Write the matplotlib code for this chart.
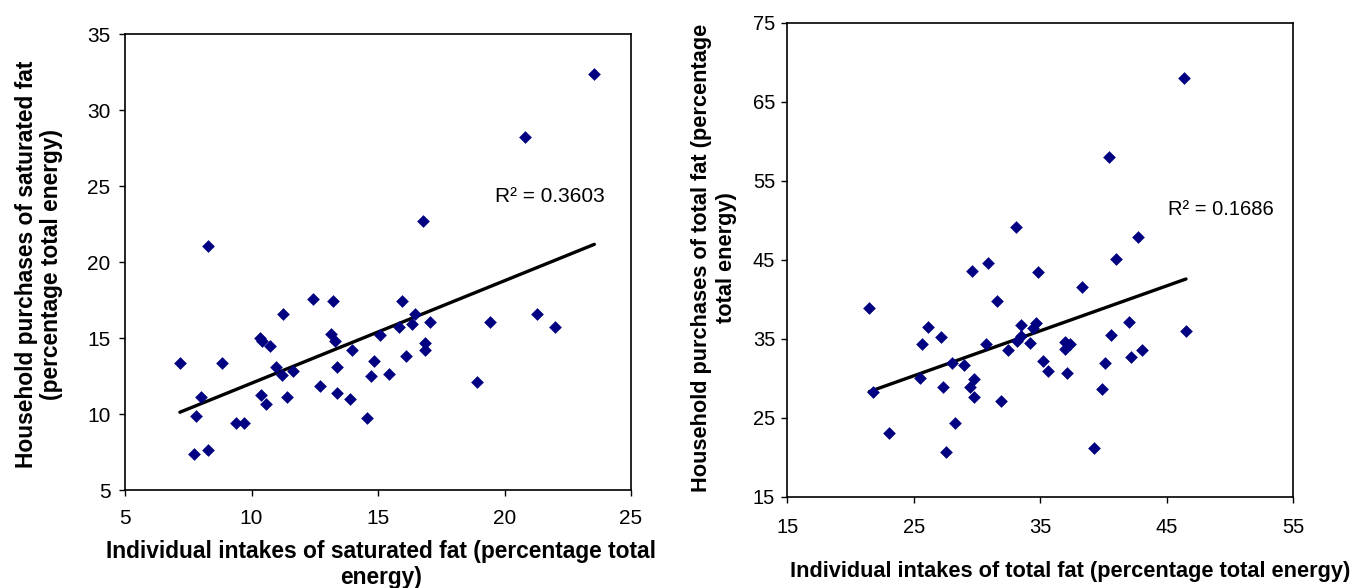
import matplotlib
matplotlib.use('Agg')
import matplotlib.pyplot as plt
import numpy as np

plt.rcParams['font.family'] = ['Liberation Sans', 'DejaVu Sans']

# saturated fat: individual intake vs household purchases (% total energy)
sat_x = [7.17, 7.99, 7.79, 7.71, 8.29, 8.82, 9.37, 9.70, 10.34, 10.40, 10.73, 10.36,
         10.57, 10.96, 11.19, 11.63, 11.23, 11.39, 12.42, 13.22, 12.71, 13.13, 13.31,
         13.38, 13.38, 13.96, 13.89, 14.55, 14.71, 14.84, 15.08, 15.45, 15.83, 15.96,
         16.11, 16.33, 16.46, 16.85, 16.85, 17.06, 18.90, 19.43, 21.27, 21.99, 8.29,
         16.77, 20.82, 23.55]
sat_y = [13.34, 11.14, 9.89, 7.39, 7.63, 13.34, 9.39, 9.39, 14.98, 14.82, 14.47, 11.25,
         10.64, 13.11, 12.57, 12.85, 16.58, 11.14, 17.57, 17.45, 11.86, 15.26, 14.82,
         13.11, 11.36, 14.21, 10.99, 9.72, 12.50, 13.47, 15.20, 12.61, 15.70, 17.45,
         13.82, 15.92, 16.58, 14.65, 14.21, 16.07, 12.13, 16.07, 16.58, 15.70, 21.05,
         22.68, 28.24, 32.37]

# total fat
tot_x = [21.48, 21.75, 23.06, 25.51, 25.67, 26.10, 27.13, 27.28, 27.55, 28.00, 28.28,
         28.99, 29.60, 29.44, 29.73, 29.73, 30.71, 30.89, 31.58, 31.89, 32.47, 33.13,
         33.47, 33.47, 34.19, 34.45, 34.66, 34.79, 35.24, 35.58, 36.95, 36.95, 37.35,
         37.09, 38.27, 39.27, 39.85, 40.11, 40.56, 40.96, 42.01, 42.17, 43.02, 46.52,
         46.38, 40.43, 33.05, 42.75]
tot_y = [38.85, 28.29, 23.10, 29.99, 34.29, 36.44, 35.25, 28.85, 20.70, 31.96, 24.29,
         31.67, 43.61, 28.85, 29.86, 27.58, 34.33, 44.54, 39.81, 27.11, 33.57, 34.75,
         36.73, 35.34, 34.49, 36.31, 37.03, 43.40, 32.22, 30.95, 34.62, 33.70, 34.33,
         30.70, 41.50, 21.13, 28.59, 31.88, 35.47, 45.09, 37.15, 32.64, 33.57, 36.01,
         68.04, 57.96, 49.10, 47.91]

r2_sat = 'R² = 0.3603'
r2_tot = 'R² = 0.1686'

W, H = 1354, 588
fig = plt.figure(figsize=(W / 100, H / 100), dpi=100)

ax1 = fig.add_axes([125 / W, 1 - 490 / H, 506 / W, 456 / H])
ax2 = fig.add_axes([787.3 / W, 1 - 496.7 / H, 506 / W, 474 / H])

navy = '#000080'


def panel(ax, x, y, xlim, ylim, step, r2, r2pos, fs, xpad, ypad):
    ax.scatter(x, y, marker='D', s=42, color=navy, linewidths=0, zorder=3)
    k, b = np.polyfit(x, y, 1)
    xs = np.array([min(x), max(x)])
    ax.plot(xs, k * xs + b, color='black', lw=2.4, solid_capstyle='round', zorder=2)
    ax.set_xlim(*xlim)
    ax.set_ylim(*ylim)
    ax.set_xticks(np.arange(xlim[0], xlim[1] + 0.1, step[0]))
    ax.set_yticks(np.arange(ylim[0], ylim[1] + 0.1, step[1]))
    ax.tick_params(axis='x', direction='out', length=4, width=1, labelsize=fs, pad=xpad)
    ax.tick_params(axis='y', direction='out', length=4, width=1, labelsize=fs, pad=ypad)
    for s in ax.spines.values():
        s.set_linewidth(1.2)
    ax.text(r2pos[0], r2pos[1], r2, fontsize=fs, ha='center', va='center')


panel(ax1, sat_x, sat_y, (5, 25), (5, 35), (5, 5), r2_sat, (21.8, 24.3), 15, 10, 6.5)
panel(ax2, tot_x, tot_y, (15, 55), (15, 75), (10, 10), r2_tot, (49.3, 51.3), 14.5, 11.5, 4.7)

fig.text(381 / W, 1 - 564.5 / H,
         'Individual intakes of saturated fat (percentage total\nenergy)',
         ha='center', va='center', fontsize=16.4, fontweight='bold', linespacing=1.15)
fig.text(39 / W, 1 - 264 / H,
         'Household purchases of saturated fat\n(percentage total energy)',
         ha='center', va='center', rotation=90, fontsize=16.4, fontweight='bold',
         linespacing=1.15)
fig.text(1070 / W, 1 - 572 / H,
         'Individual intakes of total fat (percentage total energy)',
         ha='center', va='center', fontsize=15.7, fontweight='bold')
fig.text(714 / W, 1 - 258 / H,
         'Household purchases of total fat (percentage\ntotal energy)',
         ha='center', va='center', rotation=90, fontsize=15.7, fontweight='bold',
         linespacing=1.2)

fig.savefig('out.png', dpi=100)
